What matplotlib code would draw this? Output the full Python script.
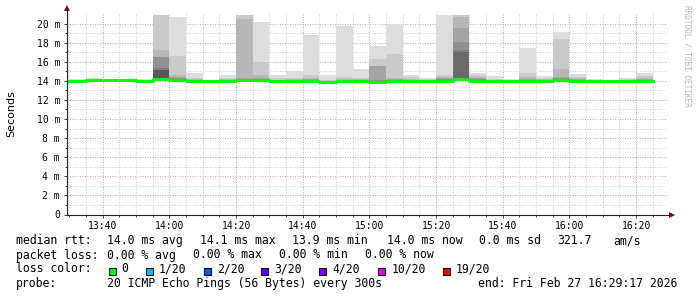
import numpy as np
import pandas as pd
import matplotlib
matplotlib.use('Agg')
import matplotlib.pyplot as plt
from matplotlib.patches import Rectangle

# 5 minute bins, start time of each
bin_start = ['13:25', '13:30', '13:35', '13:40', '13:45', '13:50', '13:55',
             '14:00', '14:05', '14:10', '14:15', '14:20', '14:25', '14:30',
             '14:35', '14:40', '14:45', '14:50', '14:55', '15:00', '15:05',
             '15:10', '15:15', '15:20', '15:25', '15:30', '15:35', '15:40',
             '15:45', '15:50', '15:55', '16:00', '16:05', '16:10', '16:15',
             '16:20']

# median rtt per bin (ms)
median_ms = [14.00, 14.00, 14.05, 14.05, 14.05, 13.95, 14.20,
             14.05, 14.00, 14.00, 14.00, 14.05, 14.05, 14.00,
             14.00, 14.00, 13.85, 14.00, 14.02, 13.90, 14.00,
             14.00, 14.00, 14.00, 14.20, 14.02, 14.00, 13.98,
             13.98, 14.00, 14.05, 14.03, 13.98, 14.00, 14.00,
             14.00]

# fastest ping per bin (ms)
lowest_ms = [13.95, 13.95, 13.95, 13.95, 13.95, 13.80, 14.00,
             13.90, 13.90, 13.95, 13.90, 13.95, 13.90, 13.90,
             13.90, 13.90, 13.75, 13.90, 13.90, 13.80, 13.90,
             13.90, 13.85, 13.90, 14.00, 13.90, 13.90, 13.90,
             13.90, 13.85, 13.95, 13.95, 13.90, 13.95, 13.90,
             13.90]

# slowest ten pings per bin, slowest first (ms)
upper_ms = [
    [14.10, 14.05, 14.05, 14.00, 14.00, 14.00, 14.00, 14.00, 14.00, 14.00],
    [14.15, 14.10, 14.05, 14.05, 14.00, 14.00, 14.00, 14.00, 14.00, 14.00],
    [14.30, 14.20, 14.10, 14.10, 14.05, 14.05, 14.05, 14.05, 14.05, 14.05],
    [14.15, 14.10, 14.10, 14.10, 14.05, 14.05, 14.05, 14.05, 14.05, 14.05],
    [14.15, 14.10, 14.10, 14.05, 14.05, 14.05, 14.05, 14.05, 14.05, 14.05],
    [14.15, 14.05, 14.00, 14.00, 13.95, 13.95, 13.95, 13.95, 13.95, 13.95],
    [20.90, 20.90, 17.23, 16.53, 16.53, 15.31, 15.13, 15.13, 14.30, 14.26],
    [20.70, 16.60, 14.60, 14.45, 14.30, 14.20, 14.15, 14.10, 14.10, 14.05],
    [14.78, 14.30, 14.20, 14.10, 14.05, 14.05, 14.00, 14.00, 14.00, 14.00],
    [14.10, 14.05, 14.00, 14.00, 14.00, 14.00, 14.00, 14.00, 14.00, 14.00],
    [14.60, 14.26, 14.15, 14.10, 14.05, 14.00, 14.00, 14.00, 14.00, 14.00],
    [20.90, 20.90, 20.47, 14.30, 14.20, 14.15, 14.10, 14.10, 14.05, 14.05],
    [20.12, 15.98, 14.60, 14.30, 14.20, 14.15, 14.10, 14.10, 14.05, 14.05],
    [14.60, 14.25, 14.10, 14.05, 14.00, 14.00, 14.00, 14.00, 14.00, 14.00],
    [15.00, 14.30, 14.15, 14.10, 14.05, 14.00, 14.00, 14.00, 14.00, 14.00],
    [18.80, 14.60, 14.30, 14.15, 14.10, 14.05, 14.00, 14.00, 14.00, 14.00],
    [14.60, 14.10, 14.00, 13.95, 13.90, 13.90, 13.85, 13.85, 13.85, 13.85],
    [19.77, 14.40, 14.20, 14.10, 14.05, 14.00, 14.00, 14.00, 14.00, 14.00],
    [15.20, 14.30, 14.15, 14.10, 14.05, 14.05, 14.02, 14.02, 14.02, 14.02],
    [17.65, 16.25, 15.50, 15.50, 14.10, 14.00, 13.95, 13.90, 13.90, 13.90],
    [20.00, 16.85, 14.30, 14.20, 14.10, 14.05, 14.00, 14.00, 14.00, 14.00],
    [14.60, 14.40, 14.20, 14.10, 14.05, 14.00, 14.00, 14.00, 14.00, 14.00],
    [14.30, 14.15, 14.10, 14.05, 14.00, 14.00, 14.00, 14.00, 14.00, 14.00],
    [20.90, 14.60, 14.43, 14.26, 14.15, 14.10, 14.05, 14.00, 14.00, 14.00],
    [20.90, 20.90, 20.70, 19.50, 18.10, 17.20, 17.00, 14.30, 14.25, 14.20],
    [14.83, 14.60, 14.40, 14.30, 14.20, 14.10, 14.05, 14.02, 14.02, 14.02],
    [14.50, 14.20, 14.10, 14.05, 14.00, 14.00, 14.00, 14.00, 14.00, 14.00],
    [14.20, 14.10, 14.00, 13.98, 13.98, 13.98, 13.98, 13.98, 13.98, 13.98],
    [17.47, 14.78, 14.43, 14.20, 14.10, 14.05, 14.00, 13.98, 13.98, 13.98],
    [14.50, 14.30, 14.15, 14.10, 14.05, 14.00, 14.00, 14.00, 14.00, 14.00],
    [19.14, 18.40, 15.24, 14.43, 14.30, 14.20, 14.15, 14.10, 14.10, 14.05],
    [14.67, 14.45, 14.30, 14.20, 14.10, 14.05, 14.03, 14.03, 14.03, 14.03],
    [14.20, 14.10, 14.05, 14.00, 13.98, 13.98, 13.98, 13.98, 13.98, 13.98],
    [14.10, 14.05, 14.00, 14.00, 14.00, 14.00, 14.00, 14.00, 14.00, 14.00],
    [14.26, 14.15, 14.10, 14.05, 14.00, 14.00, 14.00, 14.00, 14.00, 14.00],
    [14.83, 14.50, 14.30, 14.20, 14.10, 14.05, 14.00, 14.00, 14.00, 14.00],
]

x_ticks = ['13:40', '14:00', '14:20', '14:40', '15:00', '15:20', '15:40', '16:00', '16:20']
y_ticks = [0, 2, 4, 6, 8, 10, 12, 14, 16, 18, 20]

loss_labels = ['0', '1/20', '2/20', '3/20', '4/20', '10/20', '19/20']
loss_colors = ['#00ff00', '#00b8ff', '#0059ff', '#5e00ff', '#7e00ff', '#dd00ff', '#ff0000']

day = '2026-02-27 '
t = pd.to_datetime([day + s for s in bin_start])
step = pd.Timedelta(minutes=5)
width = 5 / 1440.0
t_lo = pd.Timestamp(day + '13:29:17')
t_hi = pd.Timestamp(day + '16:29:17')

W, H = 697, 297
fig = plt.figure(figsize=(W / 100, H / 100), dpi=100)
fig.patch.set_facecolor('white')


def fx(x):
    return x / W


def fy(y):
    return 1 - y / H


ax = fig.add_axes([fx(67), fy(214.5), 600 / W, 201.5 / H])
ax.set_facecolor('white')

upper = np.array(upper_ms)
med = np.array(median_ms)
low = np.array(lowest_ms)

# smoke: band k spans ping k .. ping 21-k, darker towards the middle
for k in range(1, 11):
    g = int(190 / 10 * (10 - k)) + 50
    col = '#%02x%02x%02x' % (g, g, g)
    top = upper[:, k - 1]
    bot = low if k == 1 else med
    ax.bar(t, np.clip(top - bot, 0, None), bottom=bot, width=width,
           align='edge', color=col, linewidth=0, zorder=2)

# median line
tx = list(t) + [t[-1] + step]
my = list(med) + [med[-1]]
ax.plot(tx, my, drawstyle='steps-post', color='#00ff00', lw=2.1, zorder=3)

ax.set_xlim(t_lo, t_hi)
ax.set_ylim(0, 21.1)

major_x = pd.to_datetime([day + s for s in x_ticks])
minor_x = pd.date_range(day + '13:30', day + '16:25', freq='5min')
ax.set_xticks(major_x)
ax.set_xticklabels(x_ticks)
ax.set_xticks(minor_x, minor=True)
ax.set_yticks(y_ticks)
ax.set_yticklabels(['0'] + ['%d m' % v for v in y_ticks[1:]])
ax.set_yticks(np.arange(1, 21, 2), minor=True)

ax.grid(which='minor', color='#cfcfcf', lw=0.72, ls=(0, (1, 1.5)), zorder=0)
ax.grid(which='major', color='#e8a0a0', lw=0.72, ls=(0, (1, 1.5)), zorder=1)
ax.set_axisbelow(True)

for s in ax.spines.values():
    s.set_visible(False)
ax.tick_params(which='major', length=2.5, width=0.7, color='#404040', pad=2.5,
               labelsize=7, direction='out')
ax.tick_params(which='minor', length=1.5, width=0.7, color='#404040', direction='out')
for lab in ax.get_xticklabels() + ax.get_yticklabels():
    lab.set_family('DejaVu Sans Mono')

# axis lines with arrows
ax.plot([0, 0], [0, 1.02], transform=ax.transAxes, color='#202020', lw=0.8,
        clip_on=False, zorder=5)
ax.plot([0, 1.008], [0, 0], transform=ax.transAxes, color='#202020', lw=0.8,
        clip_on=False, zorder=5)
ax.plot([0], [1.025], marker='^', ms=4, color='#800000', transform=ax.transAxes,
        clip_on=False, zorder=6, mew=0)
ax.plot([1.008], [0], marker='>', ms=4, color='#800000', transform=ax.transAxes,
        clip_on=False, zorder=6, mew=0)

fig.text(fx(11), fy(114), 'Seconds', rotation=90, ha='center', va='center',
         fontsize=8, family='DejaVu Sans')
fig.text(fx(687), fy(5), 'RRDTOOL / TOBI OETIKER', rotation=270, ha='center',
         va='top', fontsize=5.6, color='#b8b8b8', family='DejaVu Sans Mono')

mono = dict(fontsize=8.3, family='DejaVu Sans Mono', va='center', ha='left')
row1 = [(16, 'median rtt:'), (107.3, '14.0 ms avg'), (200, '14.1 ms max'),
        (292.5, '13.9 ms min'), (387.5, '14.0 ms now'), (479.3, '0.0 ms sd'),
        (557, '321.7'), (613.5, 'am/s')]
row2 = [(16, 'packet loss:'), (107.3, '0.00 % avg'), (193.3, '0.00 % max'),
        (279.3, '0.00 % min'), (365, '0.00 % now')]
row4 = [(16, 'probe:'), (107.3, '20 ICMP Echo Pings (56 Bytes) every 300s'),
        (478.3, 'end: Fri Feb 27 16:29:17 2026')]
for x, s in row1:
    fig.text(fx(x), fy(240.7), s, **mono)
for x, s in row2:
    fig.text(fx(x), fy(255), s, **mono)
for x, s in row4:
    fig.text(fx(x), fy(283.3), s, **mono)

fig.text(fx(16), fy(269), 'loss color:', **mono)
box_x = [108.7, 146, 204.3, 261, 319, 378.3, 442.7]
for bx, lab, c in zip(box_x, loss_labels, loss_colors):
    fig.patches.append(Rectangle((fx(bx), fy(274.5)), 7 / W, 7 / H,
                                 transform=fig.transFigure, facecolor=c,
                                 edgecolor='black', lw=0.7))
    fig.text(fx(bx + 13), fy(269), lab, **mono)

fig.savefig('out.png', dpi=100)
